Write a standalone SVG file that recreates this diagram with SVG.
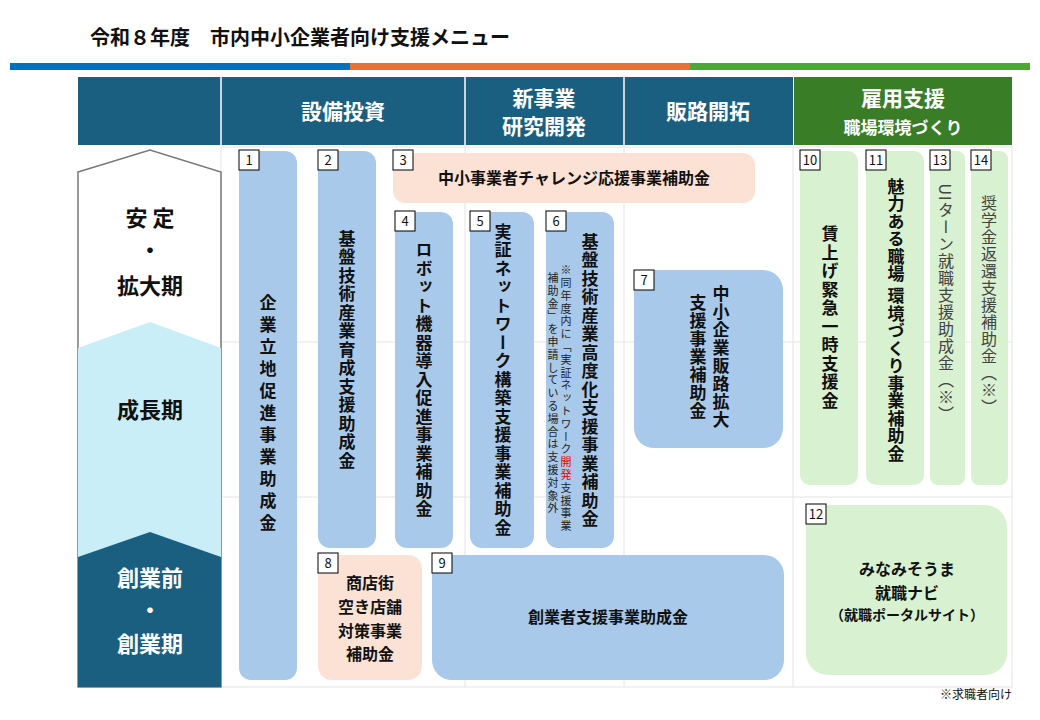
<svg xmlns="http://www.w3.org/2000/svg" width="1040" height="720" viewBox="0 0 1040 720">
<style>
text{font-family:"Noto Sans CJK JP","Noto Sans",sans-serif;fill:#111}
.v{writing-mode:vertical-rl;text-anchor:middle;font-weight:bold;font-size:17px}
.vt{writing-mode:vertical-rl;text-anchor:middle;font-size:16px;fill:#444}
.h{text-anchor:middle;font-weight:bold;font-size:16px}
.hd{text-anchor:middle;font-weight:bold;fill:#fff;font-size:21px}
.lb{text-anchor:middle;font-weight:bold;font-size:22px}
.b{fill:#a9c9ea}.p{fill:#fbe2d4}.g{fill:#d8f1d0}
.n{fill:#fff;stroke:#000;stroke-width:1}
.nt{font-size:13px;text-anchor:middle}
</style>
<rect width="1040" height="720" fill="#fff"/>
<text x="90" y="45" font-size="20" font-weight="bold">令和８年度　市内中小企業者向け支援メニュー</text>
<rect x="10" y="63" width="340" height="7" fill="#0070c0"/>
<rect x="350" y="63" width="340" height="7" fill="#e97132"/>
<rect x="690" y="63" width="340" height="7" fill="#4ea72e"/>
<g id="header">
<rect x="78" y="77" width="715" height="68" fill="#1a5e80"/>
<rect x="794" y="77" width="218" height="68" fill="#3a7d27"/>
<g stroke="#fff" stroke-width="1.5"><line x1="221" y1="77" x2="221" y2="145"/><line x1="465" y1="77" x2="465" y2="145"/><line x1="624" y1="77" x2="624" y2="145"/></g>
<text class="hd" x="343" y="119">設備投資</text>
<text class="hd" x="544" y="106">新事業</text><text class="hd" x="544" y="134">研究開発</text>
<text class="hd" x="708" y="119">販路開拓</text>
<text class="hd" x="903" y="106">雇用支援</text><text class="hd" x="903" y="134" style="font-size:17px">職場環境づくり</text>
</g>
<g id="grid" stroke="#e4e4e4" stroke-width="1" fill="none">
<rect x="221" y="147" width="791" height="540"/>
<line x1="221" y1="342" x2="1012" y2="342"/><line x1="221" y1="497" x2="1012" y2="497"/>
<line x1="465" y1="147" x2="465" y2="687"/><line x1="624" y1="147" x2="624" y2="687"/><line x1="793" y1="147" x2="793" y2="687"/>
</g>
<g id="stages">
<polygon points="78,172 150,150 221,172 221,687 78,687" fill="#fff" stroke="#777" stroke-width="1.5"/>
<polygon points="78,348 150,322 221,348 221,687 78,687" fill="#c9eef8"/>
<polygon points="78,557 150,532 221,557 221,687 78,687" fill="#1a5e80"/>
<text class="lb" x="150" y="226">安 定</text><text class="lb" x="150" y="258">・</text><text class="lb" x="150" y="294">拡大期</text>
<text class="lb" x="150" y="418">成長期</text>
<text class="lb" style="fill:#fff" x="150" y="586">創業前</text><text class="lb" style="fill:#fff" x="150" y="618">・</text><text class="lb" style="fill:#fff" x="150" y="652">創業期</text>
</g>
<g id="n1"><rect class="b" x="239" y="151" width="58" height="529" rx="12"/><rect class="n" x="239" y="150" width="20" height="20"/><text class="nt" x="249" y="165">1</text>
<text class="v" x="268" y="415" letter-spacing="5">企業立地促進事業助成金</text></g>
<g id="n2"><rect class="b" x="318" y="151" width="58" height="397" rx="12"/><rect class="n" x="318" y="150" width="20" height="20"/><text class="nt" x="328" y="165">2</text>
<text class="v" x="347" y="350" letter-spacing="1.5">基盤技術産業育成支援助成金</text></g>
<g id="n3"><rect class="p" x="393" y="153" width="362" height="50" rx="12"/><rect class="n" x="393" y="150" width="20" height="20"/><text class="nt" x="403" y="165">3</text>
<text class="h" x="574" y="184">中小事業者チャレンジ応援事業補助金</text></g>
<g id="n4"><rect class="b" x="395" y="212" width="58" height="336" rx="12"/><rect class="n" x="395" y="211" width="20" height="20"/><text class="nt" x="405" y="226">4</text>
<text class="v" x="424" y="380" letter-spacing="1.5">ロボット機器導入促進事業補助金</text></g>
<g id="n5"><rect class="b" x="470" y="212" width="64" height="336" rx="12"/><rect class="n" x="470" y="211" width="20" height="20"/><text class="nt" x="480" y="226">5</text>
<text class="v" x="503" y="380" letter-spacing="1.5">実証ネットワーク構築支援事業補助金</text></g>
<g id="n6"><rect class="b" x="546" y="212" width="68" height="336" rx="12"/><rect class="n" x="546" y="211" width="20" height="20"/><text class="nt" x="556" y="226">6</text>
<text class="v" x="590" y="381" letter-spacing="1.5">基盤技術産業高度化支援事業補助金</text>
<text class="vt" x="566" y="399" style="font-size:11px;fill:#222" letter-spacing="1.8">※同年度内に「実証ネットワーク<tspan style="fill:#e00">開発</tspan>支援事業</text>
<text class="vt" x="553" y="394" style="font-size:11px;fill:#222" letter-spacing="1.8">補助金」を申請している場合は支援対象外</text></g>
<g id="n7"><rect class="b" x="634" y="270" width="149" height="178" rx="20"/><rect class="n" x="634" y="270" width="20" height="20"/><text class="nt" x="644" y="285">7</text>
<text class="v" x="721" y="357" letter-spacing="1">中小企業販路拡大</text>
<text class="v" x="698" y="357" letter-spacing="1">支援事業補助金</text></g>
<g id="n8"><rect class="p" x="318" y="555" width="104" height="125" rx="14"/><rect class="n" x="318" y="553" width="20" height="20"/><text class="nt" x="328" y="568">8</text>
<text class="h" x="370" y="589">商店街</text><text class="h" x="370" y="613">空き店舗</text><text class="h" x="370" y="637">対策事業</text><text class="h" x="370" y="660">補助金</text></g>
<g id="n9"><rect class="b" x="432" y="555" width="352" height="125" rx="20"/><rect class="n" x="432" y="553" width="20" height="20"/><text class="nt" x="442" y="568">9</text>
<text class="h" x="608" y="623">創業者支援事業助成金</text></g>
<g id="n10"><rect class="g" x="800" y="151" width="58" height="334" rx="10"/><rect class="n" x="800" y="150" width="20" height="20"/><text class="nt" x="810" y="165">10</text>
<text class="v" x="830" y="318" letter-spacing="1.5">賃上げ緊急一時支援金</text></g>
<g id="n11"><rect class="g" x="866" y="151" width="58" height="334" rx="10"/><rect class="n" x="866" y="150" width="20" height="20"/><text class="nt" x="876" y="165">11</text>
<text class="v" x="896" y="320" letter-spacing="0.5">魅力ある職場 環境づくり事業補助金</text></g>
<g id="n13"><rect class="g" x="930" y="151" width="35" height="334" rx="8"/><rect class="n" x="930" y="150" width="20" height="20"/><text class="nt" x="940" y="165">13</text>
<text class="vt" x="946" y="303" letter-spacing="1">UIターン就職支援助成金（※）</text></g>
<g id="n14"><rect class="g" x="971" y="151" width="37" height="334" rx="8"/><rect class="n" x="971" y="150" width="20" height="20"/><text class="nt" x="981" y="165">14</text>
<text class="vt" x="989" y="305" letter-spacing="1">奨学金返還支援補助金（※）</text></g>
<g id="n12"><rect class="g" x="806" y="505" width="201" height="170" rx="22"/><rect class="n" x="806" y="504" width="20" height="20"/><text class="nt" x="816" y="519">12</text>
<text class="h" x="907" y="575">みなみそうま</text><text class="h" x="907" y="599">就職ナビ</text><text class="h" x="907" y="620" style="font-size:14px">（就職ポータルサイト）</text></g>
<g id="connectors"/>
<text x="1012" y="699" font-size="12" text-anchor="end">※求職者向け</text>
</svg>
